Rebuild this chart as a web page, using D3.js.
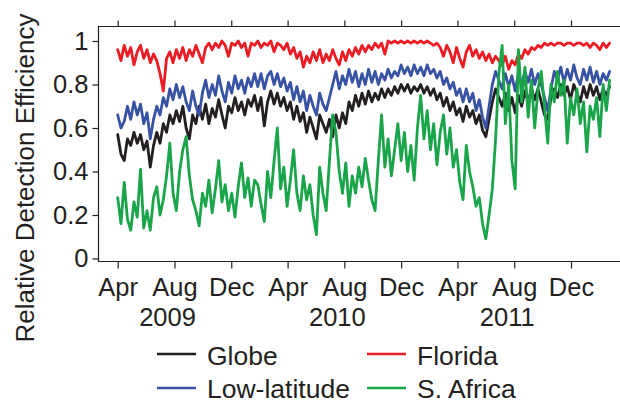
<!DOCTYPE html>
<html>
<head>
<meta charset="utf-8">
<script src="https://cdn.jsdelivr.net/npm/d3@7"></script>
<style>
  html, body { margin: 0; padding: 0; background: #fff; }
  svg { display: block; }
  text { font-family: "Liberation Sans", Arial, Helvetica, sans-serif; fill: #231f20; }
</style>
</head>
<body>
<svg id="chart" width="620" height="404"></svg>
<script>
// Weekly relative detection efficiency, first sample on 1 April 2009
const firstSample = new Date(2009, 3, 1);
const sampleStepDays = 7;

const globe = [
  0.57,0.48,0.45,0.55,0.52,0.58,0.53,0.57,0.50,0.54,
  0.42,0.52,0.58,0.53,0.62,0.58,0.66,0.62,0.68,0.63,
  0.70,0.60,0.55,0.66,0.62,0.70,0.64,0.71,0.62,0.69,
  0.65,0.73,0.66,0.60,0.70,0.67,0.74,0.68,0.72,0.66,
  0.73,0.70,0.75,0.68,0.74,0.61,0.72,0.77,0.71,0.76,
  0.70,0.74,0.68,0.72,0.64,0.70,0.63,0.67,0.58,0.65,
  0.60,0.55,0.66,0.62,0.58,0.64,0.56,0.66,0.60,0.67,
  0.62,0.72,0.68,0.75,0.70,0.76,0.71,0.77,0.72,0.76,
  0.73,0.78,0.74,0.78,0.75,0.79,0.76,0.80,0.77,0.80,
  0.76,0.79,0.77,0.80,0.76,0.79,0.75,0.78,0.73,0.76,
  0.70,0.74,0.68,0.72,0.66,0.69,0.63,0.70,0.65,0.68,
  0.62,0.66,0.59,0.56,0.64,0.72,0.78,0.74,0.70,0.76,
  0.68,0.74,0.67,0.75,0.70,0.77,0.72,0.78,0.73,0.78,
  0.72,0.66,0.64,0.74,0.78,0.74,0.80,0.75,0.79,0.73,
  0.80,0.76,0.72,0.79,0.74,0.80,0.75,0.79,0.73,0.78,
  0.75,0.79
];

const lowLatitude = [
  0.66,0.60,0.63,0.70,0.64,0.72,0.66,0.71,0.62,0.67,
  0.55,0.64,0.70,0.66,0.74,0.70,0.78,0.73,0.80,0.74,
  0.79,0.72,0.68,0.77,0.70,0.66,0.76,0.82,0.74,0.80,
  0.75,0.84,0.77,0.72,0.81,0.76,0.84,0.78,0.82,0.76,
  0.83,0.79,0.85,0.79,0.85,0.78,0.84,0.86,0.80,0.85,
  0.79,0.83,0.77,0.81,0.73,0.79,0.72,0.77,0.68,0.75,
  0.70,0.66,0.76,0.71,0.68,0.74,0.80,0.86,0.78,0.84,
  0.80,0.87,0.81,0.86,0.79,0.85,0.80,0.87,0.81,0.86,
  0.80,0.85,0.82,0.87,0.83,0.86,0.84,0.89,0.85,0.88,
  0.84,0.89,0.85,0.88,0.84,0.89,0.85,0.87,0.83,0.86,
  0.80,0.83,0.78,0.81,0.75,0.78,0.72,0.78,0.72,0.76,
  0.68,0.73,0.65,0.60,0.70,0.80,0.86,0.82,0.78,0.85,
  0.79,0.84,0.77,0.85,0.80,0.86,0.81,0.87,0.80,0.85,
  0.80,0.74,0.68,0.78,0.86,0.82,0.88,0.81,0.87,0.82,
  0.89,0.83,0.80,0.87,0.82,0.88,0.81,0.86,0.80,0.85,
  0.82,0.86
];

const florida = [
  0.96,0.91,0.98,0.93,0.97,0.89,0.95,0.98,0.92,0.96,
  0.90,0.94,0.91,0.85,0.77,0.92,0.95,0.90,0.96,0.92,
  0.97,0.91,0.96,0.93,0.98,0.94,0.90,0.97,0.99,0.96,
  0.99,0.97,1.00,0.98,0.93,0.99,0.98,1.00,0.97,0.99,
  0.93,0.99,0.98,1.00,0.97,0.99,0.98,1.00,0.95,0.99,
  0.98,0.96,0.99,0.94,0.97,0.92,0.95,0.88,0.93,0.90,
  0.95,0.91,0.96,0.90,0.94,0.91,0.96,0.92,0.89,0.95,
  0.91,0.96,0.93,0.97,0.94,0.98,0.95,0.98,0.96,0.99,
  0.97,0.99,0.94,1.00,0.99,1.00,0.99,1.00,0.99,1.00,
  0.99,1.00,0.99,1.00,0.99,1.00,0.99,0.98,0.99,0.97,
  0.93,0.98,0.95,0.90,0.97,0.92,0.88,0.95,0.98,0.93,
  0.96,0.92,0.95,0.91,0.94,0.90,0.93,0.91,0.89,0.93,
  0.87,0.91,0.89,0.94,0.92,0.96,0.94,0.97,0.96,0.98,
  0.97,0.99,0.98,0.99,0.98,0.99,0.99,0.98,0.99,0.99,
  0.98,0.99,0.99,0.98,0.99,0.97,0.99,0.98,0.96,0.99,
  0.97,0.99
];

const southAfrica = [
  0.28,0.16,0.35,0.18,0.13,0.26,0.19,0.41,0.14,0.22,
  0.13,0.28,0.33,0.20,0.27,0.38,0.53,0.30,0.22,0.40,
  0.50,0.56,0.38,0.27,0.22,0.15,0.30,0.24,0.36,0.21,
  0.32,0.45,0.26,0.34,0.22,0.30,0.19,0.33,0.44,0.28,
  0.37,0.24,0.36,0.34,0.25,0.17,0.40,0.28,0.45,0.60,
  0.32,0.42,0.24,0.36,0.50,0.30,0.22,0.38,0.27,0.34,
  0.20,0.11,0.42,0.30,0.22,0.45,0.66,0.58,0.40,0.30,
  0.44,0.24,0.38,0.30,0.42,0.33,0.46,0.36,0.27,0.22,
  0.45,0.66,0.42,0.55,0.38,0.50,0.62,0.45,0.58,0.40,
  0.52,0.36,0.60,0.75,0.55,0.68,0.50,0.62,0.43,0.58,
  0.66,0.48,0.60,0.42,0.50,0.35,0.27,0.52,0.40,0.33,
  0.24,0.28,0.16,0.09,0.20,0.32,0.55,0.85,0.98,0.62,
  0.80,0.45,0.32,0.96,0.72,0.88,0.65,0.82,0.60,0.78,
  0.86,0.70,0.53,0.80,0.72,0.86,0.75,0.82,0.53,0.74,
  0.66,0.78,0.62,0.72,0.49,0.70,0.64,0.74,0.56,0.80,
  0.68,0.82
];

const seriesNames = ["Globe", "Low-latitude", "Florida", "S. Africa"];
const seriesValues = [globe, lowLatitude, florida, southAfrica];
const seriesColors = ["#231f20", "#3953a4", "#ed1c24", "#1ba54b"];

const monthTicks = [
  new Date(2009, 3, 1), new Date(2009, 7, 1), new Date(2009, 11, 1),
  new Date(2010, 3, 1), new Date(2010, 7, 1), new Date(2010, 11, 1),
  new Date(2011, 3, 1), new Date(2011, 7, 1), new Date(2011, 11, 1)
];
const yearLabels = ["2009", "2010", "2011"];
const yTicks = [0, 0.2, 0.4, 0.6, 0.8, 1];

const sampleDates = d3.range(globe.length).map(i => d3.timeDay.offset(firstSample, sampleStepDays * i));

const svg = d3.select("#chart");

const frame = { left: 98.5, top: 26.5, right: 622, bottom: 261.5 };

const x = d3.scaleTime()
  .domain([new Date(2009, 3, 1), new Date(2011, 11, 1)])
  .range([117.7, 571]);

const y = d3.scaleLinear()
  .domain([0, 1])
  .range([258.5, 41]);

// Plot frame (left, top and bottom edges)
svg.append("path")
  .attr("d", `M${frame.right},${frame.top}H${frame.left}V${frame.bottom}H${frame.right}`)
  .attr("fill", "none")
  .attr("stroke", "#231f20")
  .attr("stroke-width", 1.2);

// Series lines
const line = d3.line()
  .x((d, i) => x(sampleDates[i]))
  .y(d => y(d));

seriesValues.forEach((vals, k) => {
  svg.append("path")
    .datum(vals)
    .attr("d", line)
    .attr("fill", "none")
    .attr("stroke", seriesColors[k])
    .attr("stroke-width", 2.8)
    .attr("stroke-linejoin", "round")
    .attr("stroke-linecap", "round");
});

// Bottom axis with month labels
const xAxis = svg.append("g")
  .attr("transform", `translate(0,${frame.bottom})`)
  .call(d3.axisBottom(x).tickValues(monthTicks).tickSize(7).tickPadding(9)
    .tickFormat(d3.timeFormat("%b")));
xAxis.select(".domain").remove();
xAxis.selectAll(".tick line").attr("stroke", "#231f20").attr("stroke-width", 1.2);
xAxis.selectAll(".tick text").style("font-size", "25.5px").attr("fill", "#231f20");

// Top axis ticks
const xTop = svg.append("g")
  .attr("transform", `translate(0,${frame.top})`)
  .call(d3.axisTop(x).tickValues(monthTicks).tickSize(6).tickFormat(""));
xTop.select(".domain").remove();
xTop.selectAll(".tick line").attr("stroke", "#231f20").attr("stroke-width", 1.2);

// Year labels
svg.append("g").selectAll("text")
  .data(yearLabels)
  .join("text")
  .attr("x", d => x(new Date(+d, 6, 17)))
  .attr("y", 326)
  .attr("text-anchor", "middle")
  .style("font-size", "25.5px")
  .text(d => d);

// Left axis
const yAxis = svg.append("g")
  .attr("transform", `translate(${frame.left},0)`)
  .call(d3.axisLeft(y).tickValues(yTicks).tickSize(6).tickPadding(4)
    .tickFormat(d => d === 0 || d === 1 ? d3.format("d")(d) : d3.format(".1f")(d)));
yAxis.select(".domain").remove();
yAxis.selectAll(".tick line").attr("stroke", "#231f20").attr("stroke-width", 1.2);
yAxis.selectAll(".tick text").style("font-size", "25.5px").attr("fill", "#231f20");

// Y axis title
svg.append("text")
  .attr("transform", "translate(34,178) rotate(-90)")
  .attr("text-anchor", "middle")
  .style("font-size", "26px")
  .text("Relative Detection Efficiency");

// Legend
const legendPos = [
  { lx: 157, tx: 207, ly: 354, ty: 365 },
  { lx: 157, tx: 207, ly: 388, ty: 398 },
  { lx: 367, tx: 417, ly: 354, ty: 365 },
  { lx: 367, tx: 417, ly: 388, ty: 398 }
];
const legend = svg.append("g");
seriesNames.forEach((name, k) => {
  const p = legendPos[k];
  legend.append("line")
    .attr("x1", p.lx).attr("x2", p.lx + 39)
    .attr("y1", p.ly).attr("y2", p.ly)
    .attr("stroke", seriesColors[k])
    .attr("stroke-width", 2.5);
  legend.append("text")
    .attr("x", p.tx).attr("y", p.ty)
    .style("font-size", "26.5px")
    .text(name);
});
</script>
</body>
</html>
